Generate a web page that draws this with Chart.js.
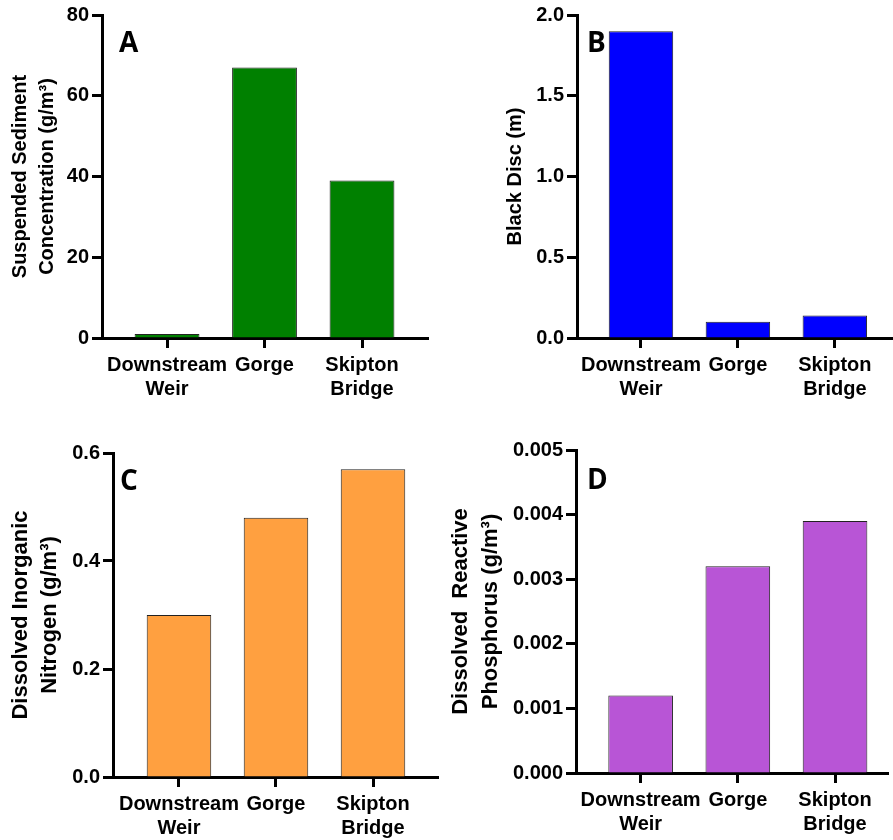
<!DOCTYPE html>
<html><head><meta charset="utf-8">
<script src="https://cdn.jsdelivr.net/npm/chart.js@4/dist/chart.umd.min.js"></script>
<style>
html,body{margin:0;padding:0;background:#fff;overflow:hidden;width:893px;height:840px;position:relative;}
canvas{position:absolute;}
</style></head><body>
<canvas id="cA" width="446" height="420" style="left:0;top:0"></canvas>
<canvas id="cB" width="447" height="420" style="left:446px;top:0"></canvas>
<canvas id="cC" width="446" height="420" style="left:0;top:420px"></canvas>
<canvas id="cD" width="447" height="420" style="left:446px;top:420px"></canvas>
<script>
// ---- data ----
const sites = [["Downstream", "Weir"], ["Gorge"], ["Skipton", "Bridge"]];
const sedimentValues = [1, 67, 39];
const blackDiscValues = [1.9, 0.1, 0.14];
const nitrogenValues = [0.3, 0.48, 0.57];
const phosphorusValues = [0.0012, 0.0032, 0.0039];
const sedimentTicks = [0, 20, 40, 60, 80];
const blackDiscTicks = [0, 0.5, 1.0, 1.5, 2.0];
const nitrogenTicks = [0, 0.2, 0.4, 0.6];
const phosphorusTicks = [0, 0.001, 0.002, 0.003, 0.004, 0.005];
const sedimentTitle = ["Suspended Sediment", "Concentration (g/m\u00B3)"];
const blackDiscTitle = ["Black Disc (m)"];
const nitrogenTitle = ["Dissolved Inorganic", "Nitrogen (g/m\u00B3)"];
const phosphorusTitle = ["Dissolved  Reactive", "Phosphorus (g/m\u00B3)"];

Chart.defaults.font.family = '"Liberation Sans", Arial, Helvetica, sans-serif';
Chart.defaults.font.weight = 'bold';
Chart.defaults.color = '#000';

const letterPlugin = {
  id: 'panelLetter',
  afterDraw(chart, args, opts) {
    const ctx = chart.ctx, a = chart.chartArea;
    ctx.save();
    ctx.font = 'bold 28px "Open Sans", sans-serif';
    ctx.fillStyle = '#000';
    ctx.textBaseline = 'alphabetic';
    ctx.textAlign = 'left';
    ctx.fillText(opts.text, a.left + opts.dx, a.top + opts.dy);
    ctx.restore();
  }
};

function makePanel(p) {
  const data = p.values.map((v, i) => ({x: i, y: v}));
  new Chart(document.getElementById(p.id), {
    type: 'bar',
    data: {
      datasets: [{
        data: data,
        backgroundColor: p.color,
        borderColor: '#222',
        borderWidth: 1,
        barPercentage: 0.665,
        categoryPercentage: 1.0
      }]
    },
    plugins: [letterPlugin],
    options: {
      responsive: false,
      animation: false,
      devicePixelRatio: 1,
      layout: {padding: {left: 0, top: p.top, right: p.right, bottom: 0}},
      plugins: {
        legend: {display: false},
        tooltip: {enabled: false},
        panelLetter: {text: p.letter, dx: p.lx, dy: p.ly}
      },
      scales: {
        x: {
          type: 'linear',
          offset: false,
          z: 1,
          min: p.xMin,
          max: p.xMax,
          afterBuildTicks: s => { s.ticks = sites.map((_, i) => ({value: i})); },
          afterFit: s => { s.height = p.xHeight; },
          ticks: {
            callback: v => sites[v],
            font: {size: 20, weight: 'bold', lineHeight: 1.2},
            color: '#000',
            padding: 5,
            maxRotation: 0,
            autoSkip: false
          },
          grid: {display: true, offset: false, drawOnChartArea: false, drawTicks: true, tickLength: 10, tickWidth: 3, tickColor: '#000'},
          border: {display: true, width: 3, color: '#000'}
        },
        y: {
          type: 'linear',
          z: 1,
          min: 0,
          max: p.ticks[p.ticks.length - 1],
          afterBuildTicks: s => { s.ticks = p.ticks.map(v => ({value: v})); },
          afterFit: s => { s.width = p.yWidth; },
          ticks: {
            callback: v => Number(v).toFixed(p.dec),
            font: {size: 20, weight: 'bold'},
            color: '#000',
            padding: 3
          },
          grid: {display: true, drawOnChartArea: false, drawTicks: true, tickLength: 10, tickWidth: 3, tickColor: '#000'},
          border: {display: true, width: 3, color: '#000'},
          title: {
            display: true,
            text: p.title,
            color: '#000',
            font: {size: p.titleSize, weight: 'bold', lineHeight: p.titleLH},
            padding: {top: p.titlePad, bottom: 0}
          }
        }
      }
    }
  });
}

makePanel({id: 'cA', values: sedimentValues, ticks: sedimentTicks, dec: 0, color: '#008000',
  title: sedimentTitle, titleSize: 20, titleLH: 1.35, titlePad: 6.5,
  yWidth: 102, top: 15, right: 18, xHeight: 82, xMin: -0.667, xMax: 2.677,
  letter: 'A', lx: 17, ly: 37});
makePanel({id: 'cB', values: blackDiscValues, ticks: blackDiscTicks, dec: 1, color: '#0000FF',
  title: blackDiscTitle, titleSize: 20, titleLH: 1.35, titlePad: 55.5,
  yWidth: 131, top: 15, right: 0, xHeight: 82, xMin: -0.66, xMax: 2.6,
  letter: 'B', lx: 10, ly: 37});
makePanel({id: 'cC', values: nitrogenValues, ticks: nitrogenTicks, dec: 1, color: '#FFA040',
  title: nitrogenTitle, titleSize: 22, titleLH: 1.36, titlePad: 5.5,
  yWidth: 113, top: 33, right: 8, xHeight: 63, xMin: -0.68, xMax: 2.67,
  letter: 'C', lx: 7, ly: 37});
makePanel({id: 'cD', values: phosphorusValues, ticks: phosphorusTicks, dec: 3, color: '#B855D6',
  title: phosphorusTitle, titleSize: 22, titleLH: 1.36, titlePad: 0,
  yWidth: 130, top: 30, right: 5, xHeight: 67, xMin: -0.665, xMax: 2.545,
  letter: 'D', lx: 11, ly: 39});
</script>
</body></html>
